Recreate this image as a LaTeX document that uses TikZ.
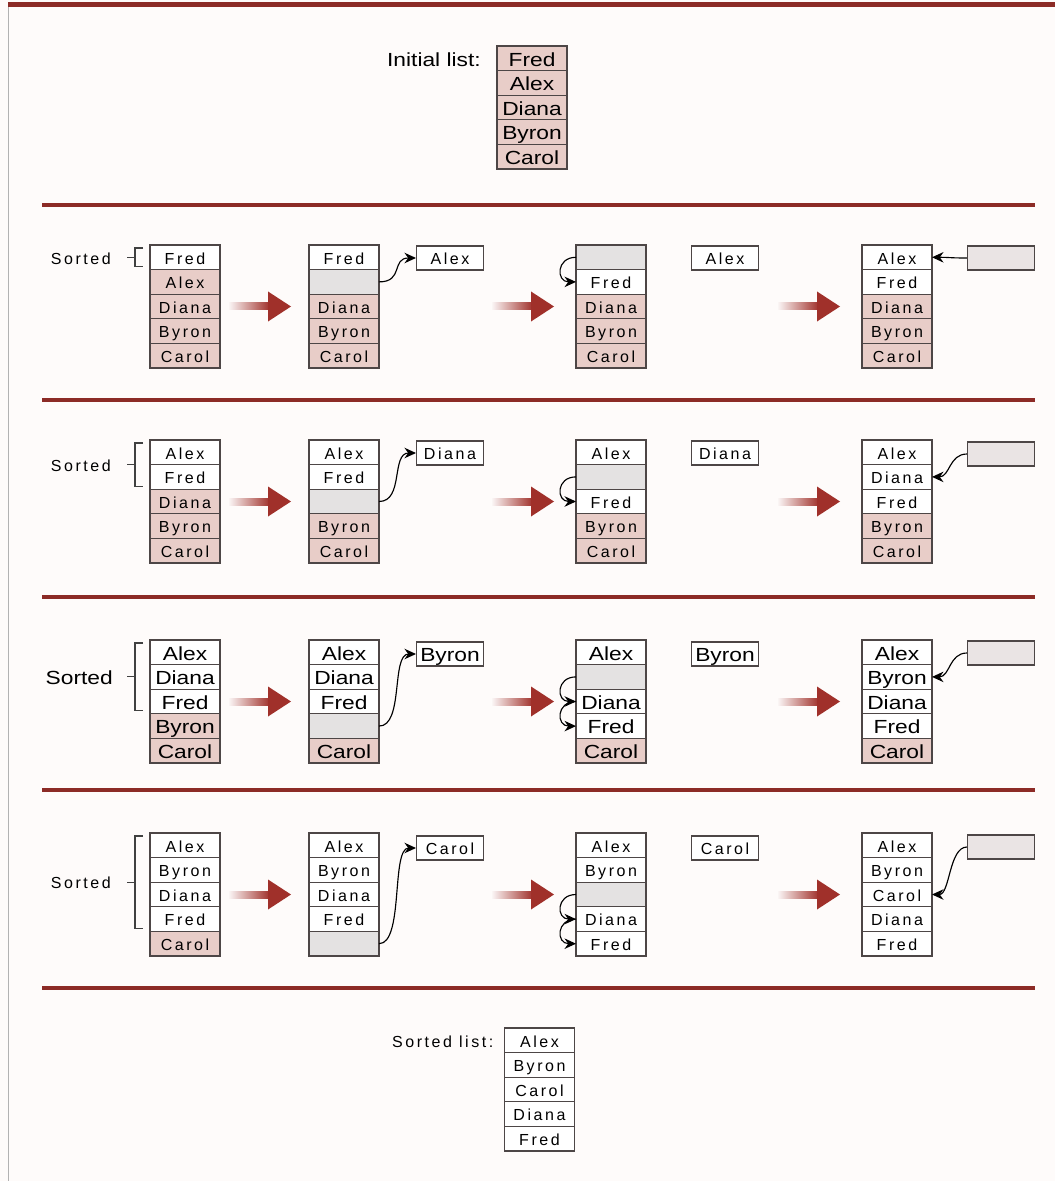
\documentclass[tikz,border=0pt]{standalone}
\usepackage{fontspec}
\setmainfont{Liberation Sans}
\newfontfamily\bigfont[FakeStretch=1.2]{Liberation Sans}
\newfontfamily\spfont[LetterSpace=16]{Liberation Sans}
\usetikzlibrary{arrows.meta, positioning, calc}
\definecolor{pinkcell}{HTML}{E8CDC8}
\definecolor{holegrey}{HTML}{E4E2E2}
\definecolor{tempgrey}{HTML}{EAE4E4}
\definecolor{cellline}{HTML}{4D4646}
\definecolor{linered}{HTML}{8C2B26}
\definecolor{arrowred}{HTML}{A0302A}
\definecolor{bgtint}{HTML}{FEFBFA}

% one column of name cells: prefix, x, top y, font style, entries
\newcommand{\namecol}[5]{%
  \foreach \nm/\st [count=\i] in {#5}
    \node[cell, #4, \st] (#1-\i) at (#2, {#3+(\i-0.5)*24.6}) {\nm};%
}

\begin{document}
\begin{tikzpicture}[x=0.2mm, y=-0.2mm,
    big/.style={font=\bigfont\fontsize{10.8}{12}\selectfont,
                text height=3.8mm, text depth=0.7mm},
    spc/.style={font=\spfont\fontsize{9.1}{11}\selectfont,
                text height=3.3mm, text depth=0.6mm},
    cell/.style={draw=cellline, line width=0.6pt, minimum width=14mm,
                 minimum height=4.92mm, inner sep=0pt, outer sep=0pt},
    srt/.style={fill=white},
    uns/.style={fill=pinkcell},
    hole/.style={fill=holegrey},
    temp/.style={draw=cellline, line width=0.6pt, fill=white,
                 minimum width=13.4mm, minimum height=4.8mm, inner sep=0pt},
    emptytmp/.style={fill=tempgrey},
    rowline/.style={draw=linered, line width=0.7mm},
    brk/.style={draw=black!75, line width=0.6pt},
    curv/.style={-{Stealth[length=2.3mm,width=2.1mm]}, line width=0.65pt},
    fatarr/.pic={
      \shade[left color=arrowred!5, right color=arrowred] (-62,-3.5) rectangle (-21,3.5);
      \fill[arrowred] (-23,-15) -- (0,0) -- (-23,15) -- cycle;
    }
]
    \fill[bgtint] (0,0) rectangle (1055,1181);
    \useasboundingbox (0,0) rectangle (1055,1181);
    \draw[black!30, line width=0.3pt] (8,5) -- (8,1181);
    \draw[rowline, line width=1mm] (8,5) -- (1055,5);
    \foreach \y in {205,400,597,790,988}
        \draw[rowline] (42,\y) -- (1035,\y);

    % initial list
    \namecol{init}{532}{46}{big}{Fred/uns, Alex/uns, Diana/uns, Byron/uns, Carol/uns}
    \node[big, left=2mm of init-1] (initlbl) {Initial list:};

    % pass 1
    \namecol{r1a}{185}{245}{spc}{Fred/srt, Alex/uns, Diana/uns, Byron/uns, Carol/uns}
    \namecol{r1b}{344}{245}{spc}{Fred/srt, {}/hole, Diana/uns, Byron/uns, Carol/uns}
    \namecol{r1c}{611}{245}{spc}{{}/hole, Fred/srt, Diana/uns, Byron/uns, Carol/uns}
    \namecol{r1d}{897}{245}{spc}{Alex/srt, Fred/srt, Diana/uns, Byron/uns, Carol/uns}
    \node[temp, spc] (r1t1) at (450,258) {Alex};
    \node[temp, spc] (r1t2) at (725,258) {Alex};
    \node[temp, emptytmp] (r1t3) at (1001,258) {};
    \draw[brk] ($(r1a-1.north west)+(-7,3)$) -| ($(r1a-1.south west)+(-15,-3)$) -- ++(8,0);
    \coordinate (r1m) at ($(r1a-1.west)+(-15,0)$);
    \draw[brk] (r1m) -- ++(-8,0);
    \node[spc, anchor=east] (r1s) at ($(r1m)+(-18,0)$) {Sorted};
    \draw[curv] (r1b-2.east) .. controls +(25,0) and +(-25,0) .. (r1t1.west);
    \draw[curv] (r1c-1.west) .. controls +(-20,0) and +(-20,0) .. (r1c-2.west);
    \draw[curv] (r1t3.west) .. controls +(-18,0) and +(18,0) .. (r1d-1.east);
    \pic at ($(r1b-3.west)+(-18,0)$) {fatarr};
    \pic at ($(r1c-3.west)+(-22,0)$) {fatarr};
    \pic at ($(r1d-3.west)+(-22,0)$) {fatarr};

    % pass 2
    \namecol{r2a}{185}{440}{spc}{Alex/srt, Fred/srt, Diana/uns, Byron/uns, Carol/uns}
    \namecol{r2b}{344}{440}{spc}{Alex/srt, Fred/srt, {}/hole, Byron/uns, Carol/uns}
    \namecol{r2c}{611}{440}{spc}{Alex/srt, {}/hole, Fred/srt, Byron/uns, Carol/uns}
    \namecol{r2d}{897}{440}{spc}{Alex/srt, Diana/srt, Fred/srt, Byron/uns, Carol/uns}
    \node[temp, spc] (r2t1) at (450,453) {Diana};
    \node[temp, spc] (r2t2) at (725,453) {Diana};
    \node[temp, emptytmp] (r2t3) at (1001,454) {};
    \draw[brk] ($(r2a-1.north west)+(-7,3)$) -| ($(r2a-2.south west)+(-15,-3)$) -- ++(8,0);
    \coordinate (r2m) at ($(r2a-1.south west)+(-15,0)$);
    \draw[brk] (r2m) -- ++(-8,0);
    \node[spc, anchor=east] (r2s) at ($(r2m)+(-18,0)$) {Sorted};
    \draw[curv] (r2b-3.east) .. controls +(25,0) and +(-25,0) .. (r2t1.west);
    \draw[curv] (r2c-2.west) .. controls +(-20,0) and +(-20,0) .. (r2c-3.west);
    \draw[curv] (r2t3.west) .. controls +(-18,0) and +(18,0) .. (r2d-2.east);
    \pic at ($(r2b-3.west)+(-18,0)$) {fatarr};
    \pic at ($(r2c-3.west)+(-22,0)$) {fatarr};
    \pic at ($(r2d-3.west)+(-22,0)$) {fatarr};

    % pass 3
    \namecol{r3a}{185}{640}{big}{Alex/srt, Diana/srt, Fred/srt, Byron/uns, Carol/uns}
    \namecol{r3b}{344}{640}{big}{Alex/srt, Diana/srt, Fred/srt, {}/hole, Carol/uns}
    \namecol{r3c}{611}{640}{big}{Alex/srt, {}/hole, Diana/srt, Fred/srt, Carol/uns}
    \namecol{r3d}{897}{640}{big}{Alex/srt, Byron/srt, Diana/srt, Fred/srt, Carol/uns}
    \node[temp, big] (r3t1) at (450,654) {Byron};
    \node[temp, big] (r3t2) at (725,654) {Byron};
    \node[temp, emptytmp] (r3t3) at (1001,653) {};
    \draw[brk] ($(r3a-1.north west)+(-7,3)$) -| ($(r3a-3.south west)+(-15,-3)$) -- ++(8,0);
    \coordinate (r3m) at ($(r3a-2.west)+(-15,0)$);
    \draw[brk] (r3m) -- ++(-8,0);
    \node[big, anchor=east] (r3s) at ($(r3m)+(-16,0)$) {Sorted};
    \draw[curv] (r3b-4.east) .. controls +(25,0) and +(-25,0) .. (r3t1.west);
    \draw[curv] (r3c-2.west) .. controls +(-20,0) and +(-20,0) .. (r3c-3.west);
    \draw[curv] (r3c-3.west) .. controls +(-20,0) and +(-20,0) .. (r3c-4.west);
    \draw[curv] (r3t3.west) .. controls +(-18,0) and +(18,0) .. (r3d-2.east);
    \pic at ($(r3b-3.west)+(-18,0)$) {fatarr};
    \pic at ($(r3c-3.west)+(-22,0)$) {fatarr};
    \pic at ($(r3d-3.west)+(-22,0)$) {fatarr};

    % pass 4
    \namecol{r4a}{185}{833}{spc}{Alex/srt, Byron/srt, Diana/srt, Fred/srt, Carol/uns}
    \namecol{r4b}{344}{833}{spc}{Alex/srt, Byron/srt, Diana/srt, Fred/srt, {}/hole}
    \namecol{r4c}{611}{833}{spc}{Alex/srt, Byron/srt, {}/hole, Diana/srt, Fred/srt}
    \namecol{r4d}{897}{833}{spc}{Alex/srt, Byron/srt, Carol/srt, Diana/srt, Fred/srt}
    \node[temp, spc] (r4t1) at (450,848) {Carol};
    \node[temp, spc] (r4t2) at (725,848) {Carol};
    \node[temp, emptytmp] (r4t3) at (1001,847) {};
    \draw[brk] ($(r4a-1.north west)+(-7,3)$) -| ($(r4a-4.south west)+(-15,-3)$) -- ++(8,0);
    \coordinate (r4m) at ($(r4a-2.south west)+(-15,0)$);
    \draw[brk] (r4m) -- ++(-8,0);
    \node[spc, anchor=east] (r4s) at ($(r4m)+(-18,0)$) {Sorted};
    \draw[curv] (r4b-5.east) .. controls +(25,0) and +(-25,0) .. (r4t1.west);
    \draw[curv] (r4c-3.west) .. controls +(-20,0) and +(-20,0) .. (r4c-4.west);
    \draw[curv] (r4c-4.west) .. controls +(-20,0) and +(-20,0) .. (r4c-5.west);
    \draw[curv] (r4t3.west) .. controls +(-18,0) and +(18,0) .. (r4d-3.east);
    \pic at ($(r4b-3.west)+(-18,0)$) {fatarr};
    \pic at ($(r4c-3.west)+(-22,0)$) {fatarr};
    \pic at ($(r4d-3.west)+(-22,0)$) {fatarr};

    % sorted list
    \namecol{fin}{539.5}{1028}{spc}{Alex/srt, Byron/srt, Carol/srt, Diana/srt, Fred/srt}
    \node[spc, left=1mm of fin-1] (finlbl) {Sorted list:};
\end{tikzpicture}
\end{document}
